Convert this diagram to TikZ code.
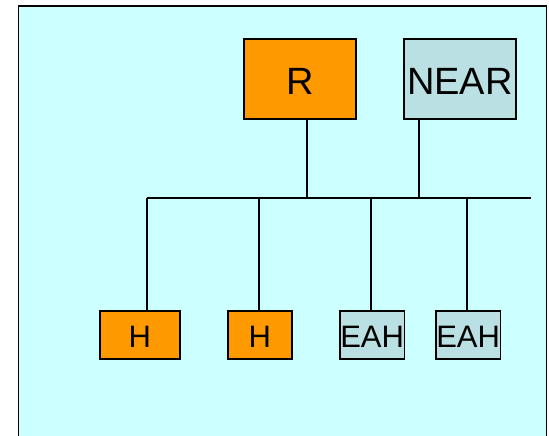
\documentclass[tikz,border=0pt]{standalone}
\usepackage{fontspec}
\setmainfont{Liberation Sans}
\definecolor{bgc}{HTML}{CCFFFF}
\definecolor{org}{HTML}{FF9900}
\definecolor{gbl}{HTML}{BAE0E3}
\tikzset{
  box/.style={draw=black, line width=1.8pt, inner sep=0pt, text depth=0pt, anchor=north west},
  big/.style={font=\fontsize{38}{38}\selectfont, text height=31pt},
  small/.style={font=\fontsize{31}{31}\selectfont, text height=26pt},
  wire/.style={line width=1.8pt}
}
\begin{document}
\begin{tikzpicture}[x=1pt,y=-1pt]
\useasboundingbox (0,0) rectangle (549,436);
\draw[fill=bgc, line width=1.8pt] (18.5,6) rectangle (546.5,445);
% top boxes
\node[box, big, fill=org, minimum width=112pt, minimum height=80pt] (r) at (243,38) {R};
\node[box, big, fill=gbl, minimum width=112pt, minimum height=80pt] (near) at (403,38) {NEAR};
% bottom boxes
\node[box, small, fill=org, minimum width=80pt, minimum height=48pt] (h1) at (99,310) {H};
\node[box, small, fill=org, minimum width=64pt, minimum height=48pt] (h2) at (227,310) {H};
\node[box, small, fill=gbl, minimum width=64.5pt, minimum height=48pt] (e1) at (339,310) {EAH};
\node[box, small, fill=gbl, minimum width=64.5pt, minimum height=48pt] (e2) at (435,310) {EAH};
% bus
\coordinate (bl) at (146.7,198);
\coordinate (br) at (530.7,198);
\coordinate (jr) at (306.7,198);
\coordinate (jn) at (418.7,198);
\coordinate (j1) at (146.7,198);
\coordinate (j2) at (258.7,198);
\coordinate (j3) at (371,198);
\coordinate (j4) at (466.7,198);
\draw[wire] (bl) -- (br);
\draw[wire] (jr |- r.south) -- (jr);
\draw[wire] (jn |- near.south) -- (jn);
\draw[wire] (j1) -- (j1 |- h1.north);
\draw[wire] (j2) -- (j2 |- h2.north);
\draw[wire] (j3) -- (j3 |- e1.north);
\draw[wire] (j4) -- (j4 |- e2.north);
\end{tikzpicture}
\end{document}
